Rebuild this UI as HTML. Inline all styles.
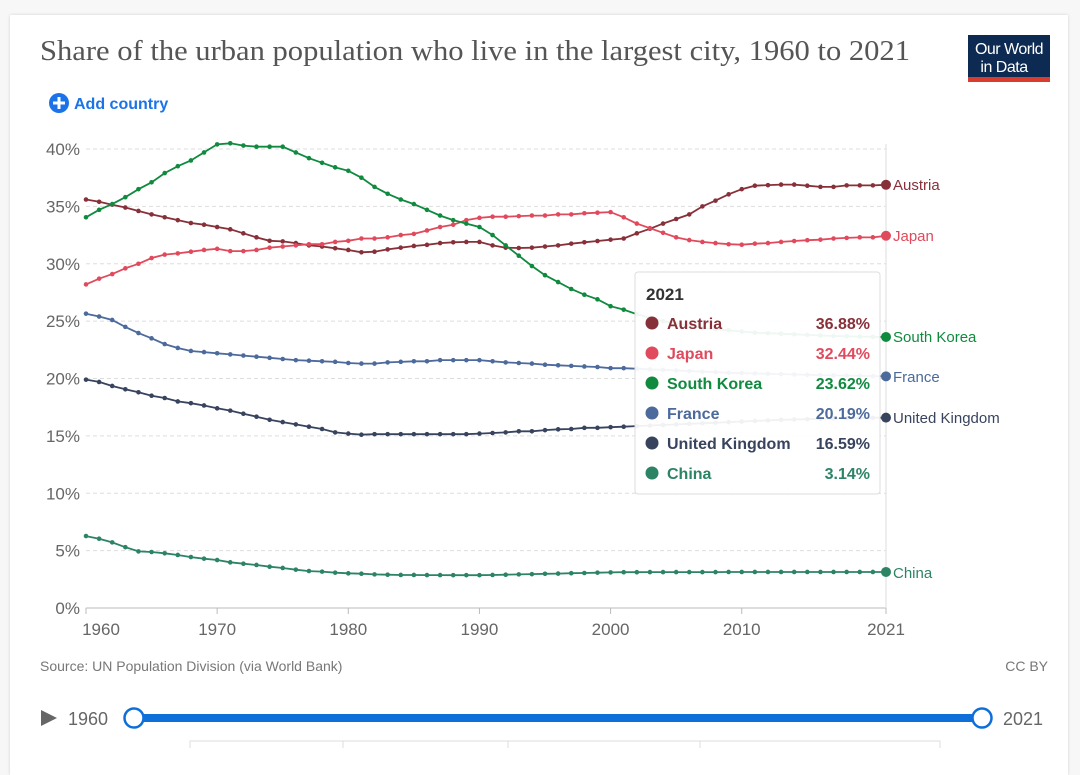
<!DOCTYPE html>
<html><head><meta charset="utf-8"><style>
body{margin:0;background:#f7f7f7;font-family:"Liberation Sans",sans-serif;overflow:hidden;}
#card{position:absolute;left:10px;top:15px;width:1058px;height:760px;background:#fff;box-shadow:0 0 3px rgba(0,0,0,.15);}
</style></head><body>
<div id="card"></div>
<svg id="svg" width="1080" height="748" style="position:absolute;left:0;top:0">
<text x="40" y="60" font-family="Liberation Serif,serif" font-size="28" fill="#555" textLength="870" lengthAdjust="spacingAndGlyphs">Share of the urban population who live in the largest city, 1960 to 2021</text>
<g><rect x="968" y="35" width="82" height="42" fill="#0d2a52"/><rect x="968" y="77" width="82" height="5" fill="#d73c2f"/>
<text x="1009" y="54" font-size="16" fill="#fff" text-anchor="middle" letter-spacing="-0.5">Our World</text><text x="1004" y="72" font-size="16" fill="#fff" text-anchor="middle" letter-spacing="-0.5">in Data</text></g>
<g><circle cx="59" cy="103" r="10" fill="#1a73e8"/><path d="M53 103h12M59 97v12" stroke="#fff" stroke-width="3"/>
<text x="74" y="109" font-size="16" font-weight="bold" fill="#1a73e8">Add country</text></g>
<g id="grid"></g><g id="lines"></g>
<g><rect x="635" y="272" width="245" height="222" rx="3" fill="rgba(255,255,255,0.93)" stroke="#ddd"/>
<text x="646" y="300" font-size="17" font-weight="bold" fill="#333">2021</text><g id="tt"></g></g>
<text x="40" y="671" font-size="14" fill="#777">Source: UN Population Division (via World Bank)</text>
<text x="1048" y="671" font-size="14" fill="#777" text-anchor="end">CC BY</text>
<path d="M41 710l16 8-16 8z" fill="#666"/>
<text x="68" y="725" font-size="18" fill="#666">1960</text>
<rect x="134" y="714" width="848" height="8" fill="#0e6fdb"/>
<circle cx="134" cy="718" r="9.5" fill="#fff" stroke="#0e6fdb" stroke-width="2.5"/>
<circle cx="982" cy="718" r="9.5" fill="#fff" stroke="#0e6fdb" stroke-width="2.5"/>
<text x="1003" y="725" font-size="18" fill="#666">2021</text>
<path d="M190 748v-7h750v7M343 741v7M508 741v7M700 741v7" fill="none" stroke="#ddd"/>
</svg>
<script>
const years=[];for(let y=1960;y<=2021;y++)years.push(y);
const yTicks=[0,5,10,15,20,25,30,35,40];
const xTicks=[1960,1970,1980,1990,2000,2010,2021];
const names=["Austria","Japan","South Korea","France","United Kingdom","China"];
const colors=["#883039","#e04a5c","#108a3e","#4c6a9c","#38435e","#2c8465"];
const austria=[35.6,35.4,35.15,34.9,34.6,34.3,34.05,33.8,33.55,33.4,33.2,33.0,32.65,32.3,32.0,31.95,31.8,31.6,31.5,31.35,31.2,31.0,31.05,31.25,31.4,31.55,31.65,31.8,31.87,31.9,31.9,31.6,31.4,31.37,31.4,31.5,31.6,31.75,31.87,31.98,32.1,32.2,32.65,33.05,33.5,33.9,34.3,35.0,35.5,36.05,36.5,36.8,36.85,36.9,36.9,36.8,36.7,36.7,36.83,36.83,36.83,36.88];
const japan=[28.2,28.7,29.1,29.6,30.0,30.5,30.8,30.9,31.05,31.2,31.3,31.1,31.1,31.2,31.4,31.5,31.6,31.7,31.7,31.9,32.0,32.2,32.2,32.3,32.5,32.6,32.9,33.2,33.4,33.8,34.0,34.1,34.1,34.15,34.2,34.2,34.3,34.3,34.4,34.45,34.5,34.05,33.5,33.1,32.7,32.3,32.06,31.9,31.8,31.7,31.66,31.75,31.8,31.9,31.98,32.05,32.1,32.2,32.25,32.3,32.3,32.44];
const korea=[34.05,34.7,35.2,35.8,36.5,37.1,37.9,38.5,39.0,39.7,40.4,40.5,40.3,40.2,40.2,40.2,39.7,39.2,38.8,38.4,38.1,37.5,36.7,36.1,35.6,35.2,34.7,34.2,33.8,33.5,33.2,32.5,31.6,30.7,29.8,29.0,28.4,27.8,27.3,26.9,26.3,26.0,25.6,25.3,25.0,24.8,24.6,24.4,24.3,24.2,24.1,24.0,23.95,23.9,23.85,23.8,23.75,23.7,23.68,23.65,23.63,23.62];
const france=[25.65,25.4,25.1,24.5,23.96,23.5,23.0,22.66,22.4,22.3,22.2,22.1,22.0,21.9,21.8,21.7,21.6,21.55,21.5,21.45,21.35,21.3,21.3,21.4,21.45,21.5,21.5,21.6,21.6,21.6,21.6,21.5,21.4,21.35,21.3,21.2,21.15,21.1,21.05,21.0,20.9,20.9,20.85,20.8,20.75,20.7,20.65,20.6,20.55,20.5,20.47,20.44,20.41,20.38,20.35,20.32,20.3,20.27,20.25,20.23,20.21,20.19];
const uk=[19.9,19.7,19.35,19.06,18.8,18.5,18.3,18.0,17.85,17.65,17.4,17.2,16.93,16.67,16.4,16.2,16.0,15.8,15.6,15.3,15.2,15.1,15.15,15.15,15.15,15.15,15.15,15.15,15.15,15.15,15.2,15.25,15.3,15.4,15.4,15.5,15.57,15.6,15.7,15.7,15.76,15.8,15.85,15.9,15.95,16.0,16.05,16.1,16.15,16.2,16.25,16.3,16.35,16.4,16.43,16.46,16.49,16.52,16.54,16.56,16.58,16.59];
const china=[6.27,6.04,5.72,5.3,4.93,4.88,4.77,4.62,4.44,4.3,4.18,3.98,3.86,3.75,3.6,3.49,3.34,3.22,3.17,3.08,3.02,2.99,2.93,2.9,2.88,2.88,2.87,2.87,2.86,2.86,2.86,2.88,2.9,2.93,2.95,2.98,3.0,3.03,3.05,3.08,3.1,3.12,3.12,3.13,3.13,3.13,3.13,3.13,3.13,3.14,3.14,3.14,3.14,3.14,3.14,3.14,3.14,3.14,3.14,3.14,3.14,3.14];
const series=[austria,japan,korea,france,uk,china];
const X0=86,X1=886,Y0=608,Y1=149;
const xs=y=>X0+(y-1960)*(X1-X0)/(2021-1960);
const ys=v=>Y0-v*(Y0-Y1)/40;
const NS="http://www.w3.org/2000/svg";
function mk(t,a,p){const e=document.createElementNS(NS,t);for(const k in a)e.setAttribute(k,a[k]);p.appendChild(e);return e;}
const grid=document.getElementById('grid'),lines=document.getElementById('lines'),tt=document.getElementById('tt');
yTicks.forEach(v=>{
  if(v>0){const l=mk('line',{x1:X0,x2:X1,y1:ys(v),y2:ys(v),stroke:'#ddd','stroke-dasharray':'4,3'},grid);
  
  }
  const t=mk('text',{x:80,y:ys(v)+6,'font-size':17,fill:'#666','text-anchor':'end'},grid);t.textContent=v+'%';
  
  
});
mk('line',{x1:X0,x2:X1,y1:Y0,y2:Y0,stroke:'#bbb'},grid);
xTicks.forEach(y=>{mk('line',{x1:xs(y),x2:xs(y),y1:Y0,y2:Y0+6,stroke:'#bbb'},grid);
  const t=mk('text',{x:xs(y)+(y===1960?15:0),y:Y0+27,'font-size':17,fill:'#666','text-anchor':'middle'},grid);t.textContent=y;
  
  });
mk('line',{x1:X1,x2:X1,y1:Y1-5,y2:Y0,stroke:'#ddd'},grid);
const labY=[185,236,337,377,418,573];
series.forEach((s,i)=>{
  const g=mk('g',{},lines);
  
  
  mk('path',{d:s.map((v,j)=>(j?'L':'M')+xs(years[j]).toFixed(1)+' '+ys(v).toFixed(1)).join(''),fill:'none',stroke:colors[i],'stroke-width':1.8},g);
  s.forEach((v,j)=>{if(j<s.length-1)mk('circle',{cx:xs(years[j]),cy:ys(v),r:2.3,fill:colors[i]},g);});
  mk('circle',{cx:xs(2021),cy:ys(s[s.length-1]),r:5,fill:colors[i]},g);
  const t=mk('text',{x:X1+7,y:labY[i]+5,'font-size':15,fill:colors[i]},g);t.textContent=names[i];
  
  
  const ry=323+i*30;
  mk('circle',{cx:652,cy:ry,r:6.5,fill:colors[i]},tt);
  const n=mk('text',{x:667,y:ry+6,'font-size':16,'font-weight':'bold',fill:colors[i]},tt);n.textContent=names[i];
  const vt=mk('text',{x:870,y:ry+6,'font-size':16,'font-weight':'bold',fill:colors[i],'text-anchor':'end'},tt);vt.textContent=s[s.length-1].toFixed(2)+'%';
});
</script>
</body></html>
